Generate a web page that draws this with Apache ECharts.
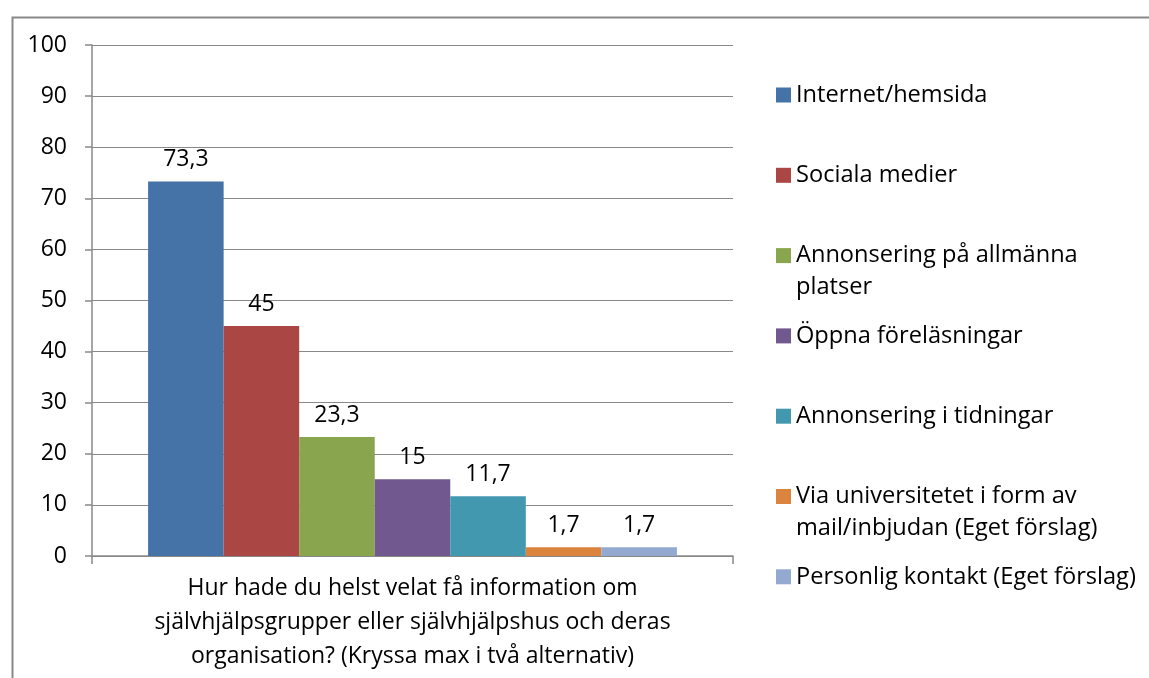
<!DOCTYPE html>
<html>
<head>
<meta charset="utf-8">
<style>
  html, body { margin: 0; padding: 0; background: #fff; }
  #chart { width: 1149px; height: 678px; }
</style>
<script src="https://cdn.jsdelivr.net/npm/echarts@6/dist/echarts.min.js"></script>
</head>
<body>
<div id="chart"></div>
<script>
// data
const categories = ['Hur hade du helst velat få information om\nsjälvhjälpsgrupper eller självhjälpshus och deras\norganisation? (Kryssa max i två alternativ)']
const seriesNames = [
  'Internet/hemsida',
  'Sociala medier',
  'Annonsering på allmänna platser',
  'Öppna föreläsningar',
  'Annonsering i tidningar',
  'Via universitetet i form av mail/inbjudan (Eget förslag)',
  'Personlig kontakt (Eget förslag)'
]
const seriesValues = [73.3, 45, 23.3, 15, 11.7, 1.7, 1.7]
const yMin = 0
const yMax = 100
const yStep = 10

// how the legend wraps the long names
const legendText = {
  'Annonsering på allmänna platser': 'Annonsering på allmänna\nplatser',
  'Via universitetet i form av mail/inbjudan (Eget förslag)': 'Via universitetet i form av\nmail/inbjudan (Eget förslag)'
}

const colors = ['#4572A7', '#AA4643', '#89A54E', '#71588F', '#4198AF', '#DB843D', '#93A9CF']
const font = 'Open Sans'
const gray = '#898989'
const lh = 32

const chart = echarts.init(document.getElementById('chart'))

const fmt = v => String(v).replace('.', ',')

// one legend per entry so the entries sit on evenly spaced rows like the original.
// wrapped names get an empty line on top so the marker lines up with the first line
const legends = seriesNames.map((name, i) => {
  const wrapped = !!legendText[name]
  return {
    orient: 'vertical',
    left: 776,
    top: 95 + i * 80.3 - (wrapped ? lh * 1.5 : lh / 2),
    padding: 0,
    itemWidth: 15,
    itemHeight: 15,
    itemGap: 0,
    icon: 'rect',
    data: [name],
    formatter: n => legendText[n] ? '\n' + legendText[n] : n,
    textStyle: {
      fontFamily: font,
      fontSize: 23.6,
      lineHeight: lh,
      color: '#000'
    }
  }
})

chart.setOption({
  animation: false,
  color: colors,
  graphic: [{
    type: 'rect',
    left: 10,
    top: 15,
    shape: { width: 1200, height: 700 },
    style: { fill: 'none', stroke: gray, lineWidth: 2 },
    silent: true
  }],
  legend: legends,
  grid: {
    left: 92,
    top: 45,
    width: 641,
    height: 511
  },
  xAxis: {
    type: 'category',
    data: categories,
    axisLine: { lineStyle: { color: gray, width: 1.5 } },
    axisTick: { show: true, length: 8, lineStyle: { color: gray, width: 1.5 } },
    axisLabel: {
      margin: 15,
      fontFamily: font,
      fontSize: 23,
      lineHeight: 34,
      color: '#000',
      align: 'center'
    }
  },
  yAxis: {
    type: 'value',
    min: yMin,
    max: yMax,
    interval: yStep,
    axisLine: { show: true, lineStyle: { color: gray, width: 1.5 } },
    axisTick: { show: true, length: 7, lineStyle: { color: gray, width: 1.5 } },
    splitLine: { lineStyle: { color: gray, width: 1.2 } },
    axisLabel: {
      margin: 25,
      fontFamily: font,
      fontSize: 23,
      color: '#000'
    }
  },
  series: seriesNames.map((name, i) => ({
    name: name,
    type: 'bar',
    barGap: 0,
    barCategoryGap: '17.5%',
    data: [seriesValues[i]],
    itemStyle: { color: colors[i] },
    label: {
      show: true,
      position: 'top',
      distance: 10,
      fontFamily: font,
      fontSize: 23,
      color: '#000',
      formatter: p => fmt(p.value)
    }
  }))
})
</script>
</body>
</html>
